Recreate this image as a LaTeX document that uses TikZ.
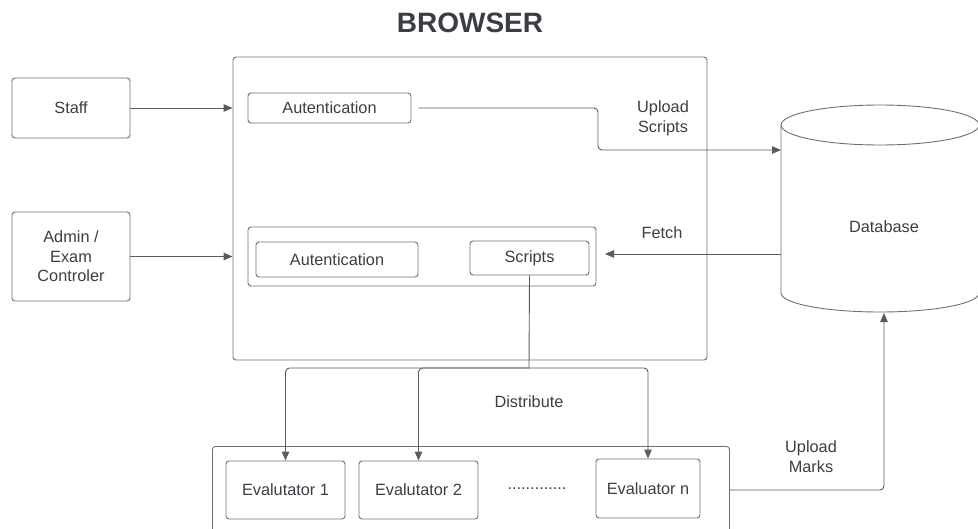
\documentclass[tikz,border=0pt]{standalone}
\usepackage{fontspec}
\setmainfont{Liberation Sans}
\usetikzlibrary{arrows.meta}

\definecolor{inkgray}{RGB}{58,62,68}
\definecolor{edgegray}{RGB}{112,112,112}

\tikzset{
  box/.style={draw=edgegray, line width=0.9pt, rounded corners=3pt, text=inkgray,
    font=\fontsize{16.3}{19.5}\selectfont, align=center, inner sep=0pt},
  lbl/.style={text=inkgray, font=\fontsize{16.3}{20}\selectfont, align=center, inner sep=0pt},
  link/.style={draw=inkgray!85, line width=0.9pt, rounded corners=4pt},
  flow/.style={link, -{Triangle[length=9pt,width=7.5pt]}}
}

\begin{document}
\begin{tikzpicture}[x=1pt,y=-1pt]
    \useasboundingbox (0,0) rectangle (978,528);
    \clip (0,0) rectangle (978,528);

    \node[text=inkgray, font=\fontsize{28}{30}\selectfont\bfseries] (title) at (470,23) {BROWSER};

    % users
    \node[box, minimum width=118, minimum height=60] (staff) at (71,108) {Staff};
    \node[box, minimum width=118, minimum height=89] (admin) at (71,256.5) {Admin /\\Exam\\Controler};

    % browser
    \node[box, minimum width=474, minimum height=303] (browser) at (470,208.5) {};
    \node[box, minimum width=163, minimum height=30] (auth1) at (329.5,108) {Autentication};
    \node[box, minimum width=348, minimum height=59] (group) at (422,256.5) {};
    \node[box, minimum width=162, minimum height=35] (auth2) at (337,259.5) {Autentication};
    \node[box, minimum width=119, minimum height=34] (scripts) at (529.5,258) {Scripts};

    % database
    \draw[draw=edgegray, line width=0.9pt] (781,125) -- (781,293)
        arc[start angle=180, end angle=0, x radius=99, y radius=19] -- (979,125);
    \draw[draw=edgegray, line width=0.9pt] (880,125) ellipse[x radius=99, y radius=20];
    \node[lbl] (db) at (884,227) {Database};
    \coordinate (dbin) at (781,150);
    \coordinate (dbfetch) at (781,254);
    \coordinate (dbbot) at (884,313);

    % evaluators
    \node[box, minimum width=517, minimum height=110, anchor=north west] (evals) at (212,446) {};
    \node[box, minimum width=119, minimum height=58] (eval1) at (285.5,490) {Evalutator 1};
    \node[box, minimum width=119, minimum height=58] (eval2) at (418.5,490) {Evalutator 2};
    \node[lbl] (dots) at (537,489) {.............};
    \node[box, minimum width=104, minimum height=59] (evaln) at (648,488.5) {Evaluator n};

    % connectors
    \draw[flow] (staff.east) -- (staff.east -| browser.west);
    \draw[flow] (admin.east) -- (admin.east -| browser.west);

    \coordinate (bend) at (598,150);
    \draw[flow] ([xshift=7pt]auth1.east) -| (bend) -- (dbin);
    \node[lbl] (upl) at (663,118) {Upload\\Scripts};

    \coordinate (fetchend) at (605,254);
    \draw[flow] (dbfetch) -- (fetchend);
    \node[lbl] (fetch) at (662,233) {Fetch};

    \coordinate (split) at (529,368);
    \draw[link] (scripts.south) -- (split);
    \draw[flow] (split) -| (eval1.north);
    \draw[flow] (split) -| (eval2.north);
    \draw[flow] (split) -| (evaln.north);
    \node[lbl] (dist) at (529,402) {Distribute};

    \coordinate (marksout) at (729,490);
    \draw[flow] (marksout) -| (dbbot);
    \node[lbl] (marks) at (811,457) {Upload\\Marks};
\end{tikzpicture}
\end{document}
